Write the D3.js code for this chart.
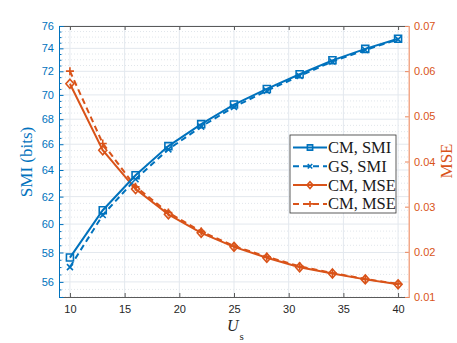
<!DOCTYPE html>
<html>
<head>
<meta charset="utf-8">
<script src="https://cdn.jsdelivr.net/npm/d3@7"></script>
<style>
  body { margin: 0; background: #fff; }
  svg text { font-family: "Liberation Sans", Arial, sans-serif; }
</style>
</head>
<body>
<script>
var w = 457;
var h = 343;

// data
var us = [10, 13, 16, 19, 22, 25, 28, 31, 34, 37, 40];
var cmSMI = [57.65, 61.0, 63.6, 65.85, 67.6, 69.2, 70.5, 71.75, 72.95, 73.95, 74.85];
var gsSMI = [57.0, 60.65, 63.3, 65.6, 67.4, 69.0, 70.35, 71.6, 72.85, 73.85, 74.8];
var cmMSE = [0.0572, 0.0425, 0.0339, 0.0283, 0.0242, 0.0211, 0.0187, 0.0166, 0.0152, 0.0139, 0.0128];
var cm2MSE = [0.0600, 0.0440, 0.0344, 0.0287, 0.0245, 0.0213, 0.0189, 0.0168, 0.0153, 0.0140, 0.0129];
var xTicks = [10, 15, 20, 25, 30, 35, 40];
var leftTicks = [56, 58, 60, 62, 64, 66, 68, 70, 72, 74, 76];
var rightTicks = [0.01, 0.02, 0.03, 0.04, 0.05, 0.06, 0.07];
var legendNames = ["CM, SMI", "GS, SMI", "CM, MSE", "CM, MSE"];

var blue = "#0072BD";
var orange = "#D95319";

var pLeft = 59, pRight = 409, pTop = 26, pBottom = 297;

var x = d3.scaleLinear().domain([9, 41]).range([pLeft, pRight]);
var yL = d3.scaleLog().domain([55, 76]).range([pBottom, pTop]);
var yR = d3.scaleLinear().domain([0.01, 0.07]).range([pBottom, pTop]);

var svg = d3.select("body").append("svg").attr("width", w).attr("height", h);

// grid
var minor = d3.range(55, 76.01, 0.5).filter(function(d){ return d % 2 != 0; });
svg.append("g").selectAll("line").data(minor).enter().append("line")
    .attr("x1", pLeft).attr("x2", pRight)
    .attr("y1", function(d){ return yL(d); }).attr("y2", function(d){ return yL(d); })
    .style("stroke", "#d4dbe3").style("stroke-width", 0.7).style("stroke-dasharray", "1,2");
svg.append("g").selectAll("line").data(leftTicks).enter().append("line")
    .attr("x1", pLeft).attr("x2", pRight)
    .attr("y1", function(d){ return yL(d); }).attr("y2", function(d){ return yL(d); })
    .style("stroke", "#e3e8ee").style("stroke-width", 1);
svg.append("g").selectAll("line").data(xTicks).enter().append("line")
    .attr("y1", pTop).attr("y2", pBottom)
    .attr("x1", function(d){ return x(d); }).attr("x2", function(d){ return x(d); })
    .style("stroke", "#e3e8ee").style("stroke-width", 1);

// axes
var xAxis = svg.append("g").attr("transform", "translate(0," + pBottom + ")")
    .call(d3.axisBottom(x).tickValues(xTicks).tickSize(-4).tickPadding(8));
var xTop = svg.append("g").attr("transform", "translate(0," + pTop + ")")
    .call(d3.axisTop(x).tickValues(xTicks).tickSize(-4).tickFormat(""));
[xAxis, xTop].forEach(function(a){
    a.select(".domain").attr("stroke", "#5a5a5a");
    a.selectAll(".tick line").attr("stroke", "#5a5a5a");
    a.selectAll("text").style("font-size", "11px").attr("fill", "#262626");
});

var yMinor = svg.append("g").attr("transform", "translate(" + pLeft + ",0)")
    .call(d3.axisLeft(yL).tickValues(minor).tickSize(-2.5).tickFormat(""));
yMinor.select(".domain").remove();
yMinor.selectAll(".tick line").attr("stroke", blue);

var yAxisL = svg.append("g").attr("transform", "translate(" + pLeft + ",0)")
    .call(d3.axisLeft(yL).tickValues(leftTicks).tickSize(-4.5).tickPadding(5).tickFormat(d3.format("d")));
yAxisL.select(".domain").attr("stroke", blue);
yAxisL.selectAll(".tick line").attr("stroke", blue);
yAxisL.selectAll("text").style("font-size", "11px").attr("fill", blue);

var yAxisR = svg.append("g").attr("transform", "translate(" + pRight + ",0)")
    .call(d3.axisRight(yR).tickValues(rightTicks).tickSize(-4).tickPadding(5).tickFormat(d3.format(".2f")));
yAxisR.select(".domain").attr("stroke", "#f2a98a");
yAxisR.selectAll(".tick line").attr("stroke", "#e9865d");
yAxisR.selectAll("text").style("font-size", "11px").attr("fill", orange);

// axis labels
svg.append("text").attr("transform", "translate(32,162) rotate(-90)")
    .attr("text-anchor", "middle").style("font-family", "Liberation Serif, serif")
    .style("font-size", "17px").attr("fill", blue).text("SMI (bits)");
svg.append("text").attr("transform", "translate(452,161) rotate(-90)")
    .attr("text-anchor", "middle").style("font-family", "Liberation Serif, serif")
    .style("font-size", "17px").attr("fill", orange).text("MSE");
var xl = svg.append("text").attr("x", 227).attr("y", 331)
    .style("font-family", "Liberation Serif, serif").style("font-size", "16px").attr("fill", "#262626");
xl.append("tspan").style("font-style", "italic").text("U");
xl.append("tspan").attr("dx", 1).attr("dy", 9).style("font-size", "11px").text("s");

// series
function drawLine(vals, yScale, color, dash) {
    var line = d3.line().x(function(d, i){ return x(us[i]); }).y(function(d){ return yScale(d); });
    svg.append("path").datum(vals).attr("d", line)
        .style("fill", "none").style("stroke", color).style("stroke-width", 2)
        .style("stroke-dasharray", dash ? "6,4" : null);
}
function markerPath(type, cx, cy, k) {
    k = k || 1;
    var s = 3.5 * k;
    if (type == "square") return "M" + (cx - s) + "," + (cy - s) + "h" + 2 * s + "v" + 2 * s + "h" + (-2 * s) + "Z";
    if (type == "diamond") return "M" + cx + "," + (cy - 4.5 * k) + "L" + (cx + 4 * k) + "," + cy + "L" + cx + "," + (cy + 4.5 * k) + "L" + (cx - 4 * k) + "," + cy + "Z";
    if (type == "x") return "M" + (cx - 3 * k) + "," + (cy - 3 * k) + "L" + (cx + 3 * k) + "," + (cy + 3 * k) + "M" + (cx - 3 * k) + "," + (cy + 3 * k) + "L" + (cx + 3 * k) + "," + (cy - 3 * k);
    return "M" + (cx - 4 * k) + "," + cy + "H" + (cx + 4 * k) + "M" + cx + "," + (cy - 4 * k) + "V" + (cy + 4 * k);
}
function drawMarkers(vals, yScale, color, type) {
    svg.append("g").selectAll("path").data(vals).enter().append("path")
        .attr("d", function(d, i){ return markerPath(type, x(us[i]), yScale(d)); })
        .style("fill", "none").style("stroke", color).style("stroke-width", 1.6);
}

drawLine(cm2MSE, yR, orange, true);
drawMarkers(cm2MSE, yR, orange, "plus");
drawLine(cmMSE, yR, orange, false);
drawMarkers(cmMSE, yR, orange, "diamond");
drawLine(gsSMI, yL, blue, true);
drawMarkers(gsSMI, yL, blue, "x");
drawLine(cmSMI, yL, blue, false);
drawMarkers(cmSMI, yL, blue, "square");

// box
svg.append("line").attr("x1", pRight).attr("x2", pRight).attr("y1", pTop).attr("y2", pBottom)
    .style("stroke", "#f2a98a").style("stroke-width", 1);

// legend
var lg = svg.append("g").attr("transform", "translate(290,135)");
lg.append("rect").attr("width", 106).attr("height", 78)
    .style("fill", "#fff").style("stroke", "#333").style("stroke-width", 0.8);
var styles = [
    { c: blue, d: false, m: "square" },
    { c: blue, d: true, m: "x" },
    { c: orange, d: false, m: "diamond" },
    { c: orange, d: true, m: "plus" }
];
legendNames.forEach(function(name, i) {
    var yy = 12.5 + i * 18.8;
    lg.append("line").attr("x1", 3).attr("x2", 37).attr("y1", yy).attr("y2", yy)
        .style("stroke", styles[i].c).style("stroke-width", 2)
        .style("stroke-dasharray", styles[i].d ? "6,4" : null);
    lg.append("path").attr("d", markerPath(styles[i].m, 20, yy, 0.75))
        .style("fill", "none").style("stroke", styles[i].c).style("stroke-width", 1.6);
    lg.append("text").attr("x", 38).attr("y", yy + 5.5)
        .style("font-family", "Liberation Serif, serif").style("font-size", "16.5px")
        .attr("fill", "#1a1a1a").text(name);
});
</script>
</body>
</html>
